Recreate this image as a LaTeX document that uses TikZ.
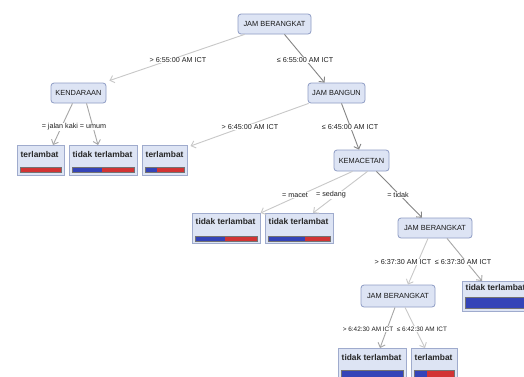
\documentclass[tikz,border=0pt]{standalone}
\usepackage{fontspec}
\setmainfont{Liberation Sans}
\usetikzlibrary{arrows.meta}
\definecolor{nodefill}{HTML}{DDE4F4}
\definecolor{nodeline}{HTML}{8E9CC4}
\definecolor{barblue}{HTML}{3444B8}
\definecolor{barred}{HTML}{D23434}
\definecolor{elight}{HTML}{C8C8C8}
\definecolor{emid}{HTML}{A6A6A6}
\definecolor{edark}{HTML}{858585}
\tikzset{
  inner/.style={rounded corners=3pt, fill=nodefill, draw=nodeline, line width=0.8pt,
    font=\fontsize{7.4}{8}\selectfont, text=black!90, inner sep=0pt, minimum height=20pt},
  leafbox/.style={fill=nodefill, draw=nodeline!85, line width=0.6pt, inner sep=0pt},
  leaftext/.style={font=\bfseries\fontsize{8.4}{9}\selectfont, text=black!85, inner sep=0pt},
  elabel/.style={font=\fontsize{7.2}{8}\selectfont, text=black!88, fill=white, inner sep=0.6pt},
  smalllabel/.style={elabel, font=\fontsize{6.4}{7}\selectfont},
  edgebase/.style={line width=0.9pt, -{Straight Barb[length=4pt,width=7.5pt,line width=0.9pt]}},
  elt/.style={edgebase, draw=elight},
  emd/.style={edgebase, draw=emid},
  edk/.style={edgebase, draw=edark},
  barframe/.style={draw=black!55, line width=0.4pt}
}
% name, x, y, width, text, blue fraction, bar offset, bar height, text offset
\newcommand\leafnode[9]{%
  \node[leafbox, minimum width=#4pt, minimum height=30pt, anchor=north west] (#1) at (#2,#3) {};
  \node[leaftext, anchor=west] (#1t) at (#2+3.5,#3+#9) {#5};
  \fill[barblue] (#2+3,#3+#7) rectangle ({#2+3+#6*(#4-6)},{#3+#7+#8});
  \fill[barred] ({#2+3+#6*(#4-6)},#3+#7) rectangle ({#2+#4-3},{#3+#7+#8});
  \draw[barframe] (#2+3,#3+#7) rectangle ({#2+#4-3},{#3+#7+#8});
}
\begin{document}
\begin{tikzpicture}[x=1pt,y=-1pt]
\useasboundingbox (0,0) rectangle (524,376);
\fill[white] (0,0) rectangle (524,376);
\clip (0,0) rectangle (524,376);

% internal nodes
\node[inner, minimum width=73pt] (root) at (274.5,24) {JAM BERANGKAT};
\node[inner, minimum width=55pt] (kend) at (78.5,93) {KENDARAAN};
\node[inner, minimum width=57pt] (bangun) at (336.5,93) {JAM BANGUN};
\node[inner, minimum width=55pt, minimum height=21pt] (kemac) at (361.5,160.5) {KEMACETAN};
\node[inner, minimum width=74pt] (jbb) at (435,228) {JAM BERANGKAT};
\node[inner, minimum width=74pt, minimum height=22pt] (jbc) at (398,296) {JAM BERANGKAT};

% leaves
\leafnode{la}{17}{145}{47}{terlambat}{0}{22}{5}{9}
\leafnode{lb}{69}{145}{68}{tidak terlambat}{0.48}{22}{5}{9}
\leafnode{lc}{142}{145}{45}{terlambat}{0.31}{22}{5}{9}
\leafnode{ld}{192}{213}{68}{tidak terlambat}{0.48}{23}{5}{8.5}
\leafnode{le}{265}{213}{68}{tidak terlambat}{0.6}{23}{5}{8.5}
\leafnode{lf}{462}{281}{70}{tidak terlambat}{1}{16}{11}{6.5}
\leafnode{lg}{338}{348}{68}{tidak terlambat}{1}{22}{8}{9}
\leafnode{lh}{411}{348}{46}{terlambat}{0.32}{22}{8}{9}

% connectors
\draw[elt] ([xshift=7pt]root.south west) -- ([xshift=3pt,yshift=2pt]kend.north east);
\draw[edk] ([xshift=10pt]root.south) -- ([xshift=17pt]bangun.north west);
\draw[emd] ([xshift=-6pt]kend.south) -- ([xshift=36pt]la.north west);
\draw[emd] ([xshift=8pt]kend.south) -- ([xshift=29pt]lb.north west);
\draw[elt] ([xshift=1pt]bangun.south west) -- ([xshift=3pt,yshift=-1pt]lc.north east);
\draw[edk] ([xshift=5pt]bangun.south) -- ([xshift=-2.5pt]kemac.north);
\draw[elt] ([xshift=-9pt]kemac.south) -- (ld.north east);
\draw[elt] ([xshift=6pt]kemac.south) -- ([xshift=48pt]le.north west);
\draw[edk] ([xshift=15pt]kemac.south) -- ([xshift=-13pt]jbb.north);
\draw[elt] ([xshift=-7pt]jbb.south) -- ([xshift=10pt]jbc.north);
\draw[emd] ([xshift=12pt]jbb.south) -- ([xshift=20pt]lf.north west);
\draw[emd] ([xshift=-3pt]jbc.south) -- ([xshift=42pt]lg.north west);
\draw[elt] ([xshift=7pt]jbc.south) -- ([xshift=14pt]lh.north west);

% edge labels
\node[elabel] (t1) at (178,60) {> 6:55:00 AM ICT};
\node[elabel] (t2) at (305,60) {≤ 6:55:00 AM ICT};
\node[elabel, anchor=west] (t3) at (41,127) {= jalan kaki};
\node[elabel, anchor=west] (t4) at (79,127) {= umum};
\node[elabel] (t5) at (250,127) {> 6:45:00 AM ICT};
\node[elabel] (t6) at (350,127) {≤ 6:45:00 AM ICT};
\node[elabel] (t7) at (295,195) {= macet};
\node[elabel] (t8) at (331,195) {= sedang};
\node[elabel] (t9) at (398,195) {= tidak};
\node[elabel, anchor=east] (t10) at (432,262) {> 6:37:30 AM ICT};
\node[elabel, anchor=west] (t11) at (434,262) {≤ 6:37:30 AM ICT};
\node[smalllabel, anchor=east] (t12) at (394,329) {> 6:42:30 AM ICT};
\node[smalllabel, anchor=west] (t13) at (396,329) {≤ 6:42:30 AM ICT};
\end{tikzpicture}
\end{document}
